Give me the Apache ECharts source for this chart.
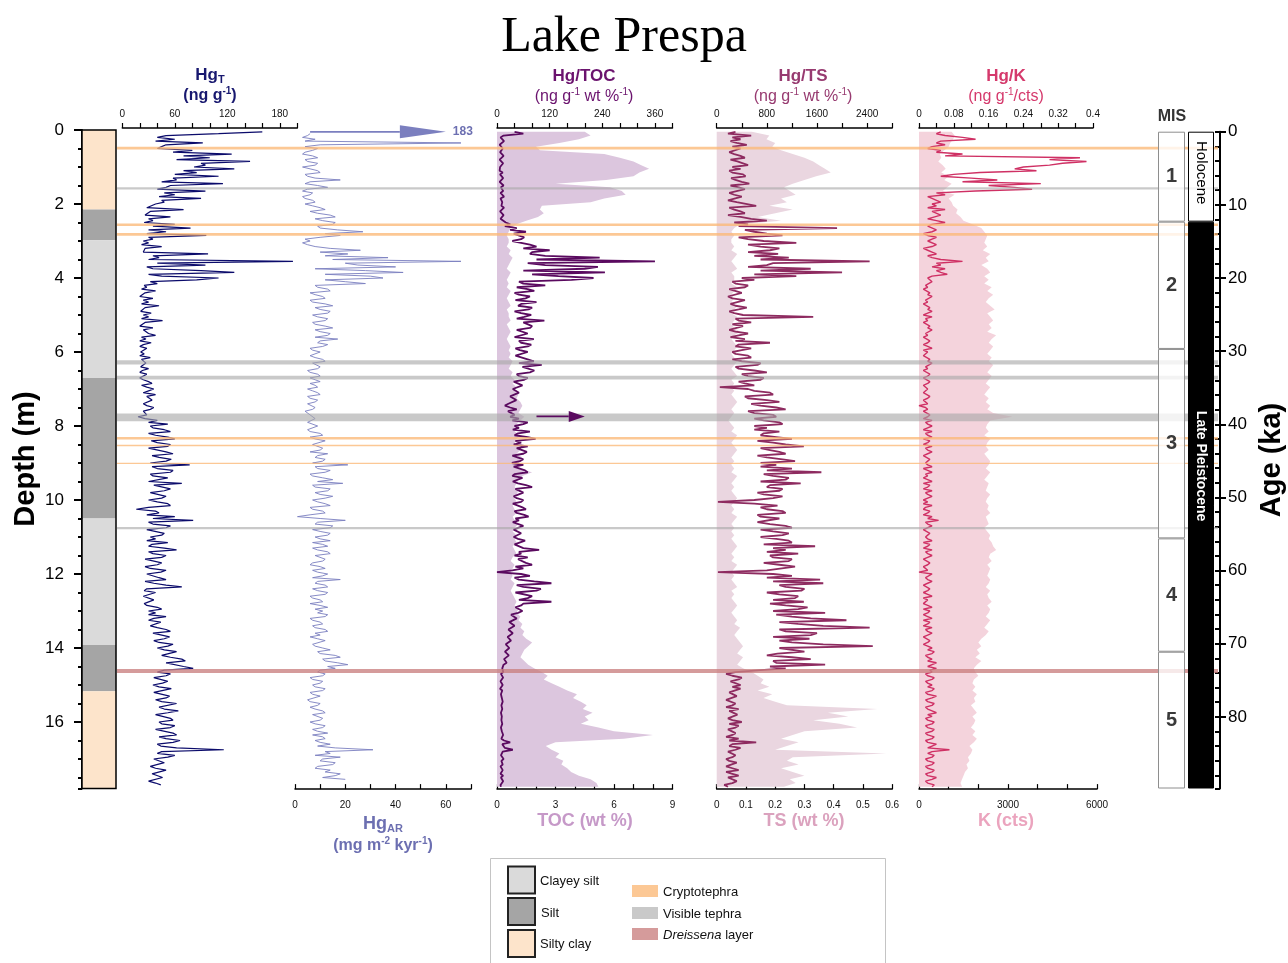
<!DOCTYPE html>
<html>
<head>
<meta charset="utf-8">
<title>Lake Prespa</title>
<script src="https://cdn.jsdelivr.net/npm/echarts@6/dist/echarts.min.js"></script>
<style>
  html, body { margin: 0; padding: 0; background: #fff; }
  #chart { width: 1288px; height: 963px; }
</style>
</head>
<body>
<div id="chart"></div>
<script>
// ---------------------------------------------------------------------------
// Core data
// ---------------------------------------------------------------------------
// Bulk geochemistry depths (m), one sample every 10 cm
const DEPTH = [
  0.05, 0.15, 0.25, 0.35, 0.45, 0.55, 0.65, 0.75, 0.85, 0.95,
  1.05, 1.15, 1.25, 1.35, 1.45, 1.55, 1.65, 1.75, 1.85, 1.95,
  2.05, 2.15, 2.25, 2.35, 2.45, 2.55, 2.65, 2.75, 2.85, 2.95,
  3.05, 3.15, 3.25, 3.35, 3.45, 3.55, 3.65, 3.75, 3.85, 3.95,
  4.05, 4.15, 4.25, 4.35, 4.45, 4.55, 4.65, 4.75, 4.85, 4.95,
  5.05, 5.15, 5.25, 5.35, 5.45, 5.55, 5.65, 5.75, 5.85, 5.95,
  6.05, 6.15, 6.25, 6.35, 6.45, 6.55, 6.65, 6.75, 6.85, 6.95,
  7.05, 7.15, 7.25, 7.35, 7.45, 7.55, 7.65, 7.75, 7.85, 7.95,
  8.05, 8.15, 8.25, 8.35, 8.45, 8.55, 8.65, 8.75, 8.85, 8.95,
  9.05, 9.15, 9.25, 9.35, 9.45, 9.55, 9.65, 9.75, 9.85, 9.95,
  10.05, 10.15, 10.25, 10.35, 10.45, 10.55, 10.65, 10.75, 10.85, 10.95,
  11.05, 11.15, 11.25, 11.35, 11.45, 11.55, 11.65, 11.75, 11.85, 11.95,
  12.05, 12.15, 12.25, 12.35, 12.45, 12.55, 12.65, 12.75, 12.85, 12.95,
  13.05, 13.15, 13.25, 13.35, 13.45, 13.55, 13.65, 13.75, 13.85, 13.95,
  14.05, 14.15, 14.25, 14.35, 14.45, 14.55, 14.65, 14.75, 14.85, 14.95,
  15.05, 15.15, 15.25, 15.35, 15.45, 15.55, 15.65, 15.75, 15.85, 15.95,
  16.05, 16.15, 16.25, 16.35, 16.45, 16.55, 16.65, 16.75, 16.85, 16.95,
  17.05, 17.15, 17.25, 17.35, 17.45, 17.55, 17.65, 17.75
];

// Mercury depths (m), one sample every 5 cm
const DEPTH_HG = [
  0.05, 0.1, 0.15, 0.2, 0.25, 0.3, 0.35, 0.4, 0.45, 0.5, 0.55, 0.6, 0.65, 0.7, 0.75, 0.8, 0.85, 0.9, 0.95, 1.0,
  1.05, 1.1, 1.15, 1.2, 1.25, 1.3, 1.35, 1.4, 1.45, 1.5, 1.55, 1.6, 1.65, 1.7, 1.75, 1.8, 1.85, 1.9, 1.95, 2.0,
  2.05, 2.1, 2.15, 2.2, 2.25, 2.3, 2.35, 2.4, 2.45, 2.5, 2.55, 2.6, 2.65, 2.7, 2.75, 2.8, 2.85, 2.9, 2.95, 3.0,
  3.05, 3.1, 3.15, 3.2, 3.25, 3.3, 3.35, 3.4, 3.45, 3.5, 3.55, 3.6, 3.65, 3.7, 3.75, 3.8, 3.85, 3.9, 3.95, 4.0,
  4.05, 4.1, 4.15, 4.2, 4.25, 4.3, 4.35, 4.4, 4.45, 4.5, 4.55, 4.6, 4.65, 4.7, 4.75, 4.8, 4.85, 4.9, 4.95, 5.0,
  5.05, 5.1, 5.15, 5.2, 5.25, 5.3, 5.35, 5.4, 5.45, 5.5, 5.55, 5.6, 5.65, 5.7, 5.75, 5.8, 5.85, 5.9, 5.95, 6.0,
  6.05, 6.1, 6.15, 6.2, 6.25, 6.3, 6.35, 6.4, 6.45, 6.5, 6.55, 6.6, 6.65, 6.7, 6.75, 6.8, 6.85, 6.9, 6.95, 7.0,
  7.05, 7.1, 7.15, 7.2, 7.25, 7.3, 7.35, 7.4, 7.45, 7.5, 7.55, 7.6, 7.65, 7.7, 7.75, 7.8, 7.85, 7.9, 7.95, 8.0,
  8.05, 8.1, 8.15, 8.2, 8.25, 8.3, 8.35, 8.4, 8.45, 8.5, 8.55, 8.6, 8.65, 8.7, 8.75, 8.8, 8.85, 8.9, 8.95, 9.0,
  9.05, 9.1, 9.15, 9.2, 9.25, 9.3, 9.35, 9.4, 9.45, 9.5, 9.55, 9.6, 9.65, 9.7, 9.75, 9.8, 9.85, 9.9, 9.95, 10.0,
  10.05, 10.1, 10.15, 10.2, 10.25, 10.3, 10.35, 10.4, 10.45, 10.5, 10.55, 10.6, 10.65, 10.7, 10.75, 10.8, 10.85, 10.9, 10.95, 11.0,
  11.05, 11.1, 11.15, 11.2, 11.25, 11.3, 11.35, 11.4, 11.45, 11.5, 11.55, 11.6, 11.65, 11.7, 11.75, 11.8, 11.85, 11.9, 11.95, 12.0,
  12.05, 12.1, 12.15, 12.2, 12.25, 12.3, 12.35, 12.4, 12.45, 12.5, 12.55, 12.6, 12.65, 12.7, 12.75, 12.8, 12.85, 12.9, 12.95, 13.0,
  13.05, 13.1, 13.15, 13.2, 13.25, 13.3, 13.35, 13.4, 13.45, 13.5, 13.55, 13.6, 13.65, 13.7, 13.75, 13.8, 13.85, 13.9, 13.95, 14.0,
  14.05, 14.1, 14.15, 14.2, 14.25, 14.3, 14.35, 14.4, 14.45, 14.5, 14.55, 14.6, 14.65, 14.7, 14.75, 14.8, 14.85, 14.9, 14.95, 15.0,
  15.05, 15.1, 15.15, 15.2, 15.25, 15.3, 15.35, 15.4, 15.45, 15.5, 15.55, 15.6, 15.65, 15.7, 15.75, 15.8, 15.85, 15.9, 15.95, 16.0,
  16.05, 16.1, 16.15, 16.2, 16.25, 16.3, 16.35, 16.4, 16.45, 16.5, 16.55, 16.6, 16.65, 16.7, 16.75, 16.8, 16.85, 16.9, 16.95, 17.0,
  17.05, 17.1, 17.15, 17.2, 17.25, 17.3, 17.35, 17.4, 17.45, 17.5, 17.55, 17.6, 17.65, 17.7, 17.75, 17.8
];

// Total mercury, Hg_T (ng g-1)
const HG_T = [
  160, 110, 50, 40, 60, 38, 92, 50, 45, 40, 80, 58, 125, 70, 100, 62, 146, 90, 95, 82,
  128, 70, 85, 60, 110, 58, 62, 45, 115, 55, 50, 40, 95, 48, 60, 42, 90, 45, 48, 38,
  40, 28, 70, 32, 30, 26, 55, 30, 35, 25, 60, 35, 78, 30, 50, 28, 96, 30, 35, 24,
  30, 22, 45, 26, 25, 24, 98, 35, 42, 30, 195, 40, 95, 28, 35, 90, 128, 30, 45, 110,
  85, 32, 40, 25, 28, 22, 38, 26, 25, 20, 35, 24, 30, 22, 42, 26, 28, 21, 33, 24,
  30, 22, 46, 26, 25, 20, 35, 24, 22, 30, 38, 22, 27, 20, 33, 24, 20, 28, 30, 21,
  25, 20, 32, 22, 22, 27, 28, 21, 30, 23, 20, 28, 26, 20, 24, 30, 34, 22, 28, 36,
  30, 24, 38, 28, 26, 34, 35, 24, 28, 36, 32, 24, 22, 28, 18, 26, 40, 30, 52, 32,
  35, 48, 55, 30, 38, 52, 60, 33, 40, 55, 52, 30, 32, 50, 58, 34, 42, 56, 50, 32,
  77, 34, 40, 58, 55, 32, 35, 52, 50, 30, 68, 36, 38, 55, 48, 32, 30, 50, 45, 30,
  40, 52, 55, 30, 16, 38, 42, 28, 60, 35, 81, 30, 35, 55, 50, 28, 30, 48, 45, 32,
  38, 28, 52, 34, 30, 48, 62, 30, 35, 50, 45, 26, 28, 45, 40, 26, 32, 50, 44, 28,
  30, 42, 50, 26, 36, 50, 68, 28, 25, 38, 40, 24, 22, 36, 35, 25, 28, 40, 45, 30,
  38, 30, 50, 36, 30, 44, 46, 32, 40, 50, 55, 35, 36, 54, 48, 36, 42, 58, 52, 40,
  48, 62, 60, 45, 55, 68, 72, 50, 52, 70, 81, 48, 40, 55, 50, 36, 38, 52, 46, 35,
  42, 56, 55, 36, 38, 54, 50, 38, 45, 62, 60, 42, 48, 64, 52, 38, 40, 55, 58, 42,
  45, 60, 55, 38, 40, 58, 62, 42, 50, 66, 58, 40, 44, 62, 116, 45, 40, 60, 52, 36,
  35, 48, 50, 32, 38, 50, 48, 34, 32, 46, 45, 30, 38, 44
];

// Hg accumulation rate, Hg_AR (mg m-2 kyr-1)
const HG_AR = [
  183, 6, 5, 3, 8, 4, 66, 10, 4, 9, 7, 4, 3, 7, 9, 4, 5, 9, 8, 3,
  6, 9, 10, 4, 5, 8, 18, 6, 4, 9, 13, 5, 3, 7, 6, 3, 4, 7, 8, 4,
  7, 10, 12, 6, 9, 14, 16, 8, 11, 16, 15, 9, 10, 17, 27, 12, 18, 10, 4, 6,
  3, 5, 8, 14, 26, 10, 21, 12, 37, 15, 66, 20, 25, 40, 8, 28, 43, 12, 30, 35,
  12, 20, 28, 8, 9, 13, 14, 6, 8, 11, 12, 6, 7, 12, 15, 8, 10, 14, 13, 7,
  9, 13, 12, 7, 8, 12, 15, 8, 10, 14, 13, 8, 17, 10, 9, 13, 11, 6, 7, 10,
  10, 6, 8, 11, 12, 7, 7, 10, 9, 5, 6, 9, 10, 6, 8, 10, 6, 8, 9, 5,
  7, 9, 10, 5, 6, 9, 8, 5, 5, 8, 7, 4, 4, 6, 6, 8, 8, 5, 5, 9,
  9, 5, 6, 10, 11, 6, 8, 12, 12, 7, 7, 11, 10, 6, 13, 9, 8, 12, 11, 7,
  21, 8, 9, 14, 12, 6, 7, 11, 15, 9, 19, 7, 8, 14, 13, 8, 10, 15, 12, 7,
  9, 12, 14, 6, 7, 11, 12, 6, 1, 10, 20, 9, 8, 15, 14, 7, 10, 14, 13, 8,
  10, 14, 7, 11, 13, 7, 9, 13, 14, 8, 8, 12, 11, 7, 6, 10, 12, 7, 9, 13,
  11, 7, 18, 9, 8, 12, 13, 7, 9, 13, 12, 6, 7, 10, 11, 6, 10, 13, 8, 11,
  9, 13, 12, 6, 7, 10, 11, 7, 8, 12, 13, 8, 10, 6, 9, 12, 12, 7, 8, 11,
  14, 9, 10, 16, 18, 11, 12, 17, 21, 13, 16, 10, 9, 12, 11, 6, 7, 11, 10, 7,
  8, 12, 11, 6, 7, 10, 10, 5, 6, 10, 9, 6, 8, 11, 12, 7, 7, 11, 10, 6,
  8, 12, 11, 7, 9, 13, 7, 11, 12, 8, 10, 14, 9, 16, 31, 12, 14, 8, 18, 11,
  10, 16, 15, 9, 8, 14, 12, 18, 16, 11, 20
];

// Hg/TOC (ng g-1 wt %-1)
const HG_TOC = [
  40, 60, 15, 8, 10, 16, 12, 6, 8, 13, 14, 7, 10, 15, 12, 6, 9, 14, 11, 7,
  10, 6, 13, 7, 8, 14, 12, 6, 10, 15, 9, 5, 14, 8, 11, 16, 8, 5, 12, 9,
  10, 16, 12, 7, 9, 15, 14, 8, 11, 20, 30, 18, 45, 30, 66, 38, 40, 62, 55, 35,
  55, 75, 90, 60, 120, 80, 75, 110, 234, 90, 360, 70, 110, 230, 200, 60, 246, 80, 140, 220,
  170, 50, 60, 110, 45, 70, 85, 40, 50, 75, 65, 42, 90, 55, 48, 80, 72, 40, 55, 78,
  62, 45, 108, 60, 58, 80, 75, 45, 48, 70, 66, 40, 84, 50, 55, 78, 70, 42, 52, 70,
  68, 42, 45, 70, 84, 50, 102, 58, 60, 85, 75, 45, 50, 70, 62, 38, 40, 58, 55, 36,
  35, 50, 48, 30, 28, 44, 40, 26, 18, 30, 45, 25, 22, 40, 30, 50, 35, 70, 60, 40,
  50, 36, 75, 48, 40, 70, 88, 42, 55, 38, 70, 45, 45, 68, 60, 35, 38, 60, 52, 34,
  60, 38, 42, 64, 70, 40, 35, 58, 55, 36, 48, 66, 80, 42, 40, 60, 62, 38, 45, 60,
  55, 36, 38, 58, 66, 40, 45, 62, 72, 42, 50, 36, 40, 60, 58, 38, 35, 55, 52, 38,
  48, 64, 62, 40, 42, 60, 96, 50, 55, 40, 70, 48, 45, 66, 80, 42, 60, 35, 0, 55,
  75, 40, 50, 85, 124, 45, 60, 100, 90, 42, 45, 80, 70, 50, 124, 60, 55, 42, 40, 58,
  48, 32, 35, 45, 42, 28, 30, 40, 38, 26, 28, 36, 34, 24, 25, 32, 30, 20, 22, 28,
  26, 18, 20, 27, 24, 16, 18, 22, 15, 19, 12, 16, 14, 9, 10, 14, 12, 8, 9, 13,
  10, 7, 12, 9, 9, 13, 11, 8, 13, 9, 10, 14, 12, 8, 9, 12, 11, 7, 10, 13,
  12, 8, 9, 13, 11, 7, 14, 10, 10, 16, 30, 12, 12, 18, 36, 13, 14, 9, 11, 15,
  10, 7, 13, 8, 9, 13, 11, 8, 14, 9, 10, 14, 12, 8, 9
];

// Hg/TS (ng g-1 wt %-1)
const HG_TS = [
  300, 180, 550, 250, 380, 220, 320, 480, 250, 380, 400, 200, 280, 380, 450, 220, 330, 420, 500, 250,
  380, 200, 250, 420, 460, 230, 300, 400, 520, 220, 350, 450, 420, 200, 280, 400, 380, 180, 320, 350,
  630, 200, 280, 380, 450, 180, 380, 550, 800, 280, 500, 350, 1920, 450, 600, 800, 1050, 350, 500, 750,
  1270, 500, 700, 1000, 850, 500, 980, 600, 1150, 700, 2440, 900, 800, 500, 1500, 700, 2000, 600, 1270, 400,
  600, 250, 300, 500, 450, 200, 200, 400, 380, 180, 250, 450, 420, 220, 300, 480, 350, 200, 280, 420,
  1540, 300, 350, 550, 250, 420, 400, 200, 300, 500, 350, 220, 450, 300, 850, 350, 300, 550, 400, 250,
  300, 500, 550, 250, 400, 700, 650, 300, 350, 600, 800, 400, 500, 750, 700, 350, 450, 600, 50, 500,
  600, 850, 900, 450, 500, 800, 1000, 550, 700, 950, 1100, 500, 600, 900, 950, 600, 750, 1000, 1050, 600,
  800, 600, 1000, 750, 700, 950, 1200, 650, 900, 1100, 1390, 700, 850, 1000, 1100, 650, 800, 1050, 1250, 700,
  950, 700, 1200, 800, 1670, 750, 900, 1150, 1100, 700, 1340, 850, 800, 1050, 1000, 650, 750, 1050, 900, 600,
  20, 600, 970, 700, 800, 1050, 1100, 650, 700, 1000, 970, 650, 850, 1100, 1200, 700, 900, 1150, 1050, 700,
  950, 1150, 1200, 750, 1570, 900, 1100, 800, 1300, 850, 900, 1200, 1150, 750, 1000, 1250, 1250, 800, 20, 900,
  1200, 800, 1650, 900, 1700, 1000, 1100, 1400, 1350, 800, 1000, 1300, 1250, 900, 1390, 850, 1100, 1450, 1300, 900,
  1730, 950, 1200, 1500, 2070, 1000, 1300, 1700, 2440, 1000, 1100, 1600, 1500, 900, 1480, 1000, 1200, 1700, 2490, 1000,
  1000, 1400, 970, 800, 1200, 1500, 900, 950, 1730, 850, 1100, 700, 300, 150, 250, 400, 350, 220, 200, 380,
  250, 380, 350, 200, 200, 320, 300, 150, 150, 300, 250, 150, 350, 200, 200, 330, 300, 180, 250, 400,
  200, 350, 300, 180, 150, 300, 250, 150, 350, 200, 630, 250, 200, 380, 300, 180, 150, 300, 250, 150,
  200, 320, 300, 150, 250, 350, 150, 250, 350, 180, 200, 320, 250, 120, 180
];

// Hg/K (ng g-1/cts)
const HG_K = [
  0.05, 0.04, 0.06, 0.10, 0.13, 0.05, 0.04, 0.06, 0.03, 0.02, 0.05, 0.04, 0.10, 0.06, 0.37, 0.30, 0.385, 0.33, 0.30, 0.24,
  0.22, 0.27, 0.14, 0.08, 0.05, 0.12, 0.18, 0.10, 0.28, 0.16, 0.22, 0.26, 0.13, 0.04, 0.06, 0.02, 0.03, 0.04, 0.05, 0.03,
  0.04, 0.02, 0.06, 0.03, 0.03, 0.05, 0.05, 0.02, 0.04, 0.06, 0.03, 0.02, 0.02, 0.04, 0.03, 0.01, 0.02, 0.04, 0.03, 0.02,
  0.02, 0.04, 0.03, 0.01, 0.02, 0.03, 0.04, 0.02, 0.03, 0.05, 0.10, 0.04, 0.05, 0.03, 0.06, 0.04, 0.05, 0.065, 0.03, 0.02,
  0.02, 0.03, 0.03, 0.015, 0.02, 0.01, 0.01, 0.025, 0.02, 0.03, 0.03, 0.015, 0.02, 0.01, 0.01, 0.025, 0.02, 0.03, 0.02, 0.01,
  0.03, 0.015, 0.02, 0.01, 0.01, 0.025, 0.02, 0.03, 0.03, 0.015, 0.02, 0.01, 0.01, 0.025, 0.02, 0.01, 0.02, 0.03, 0.01, 0.02,
  0.02, 0.01, 0.01, 0.025, 0.02, 0.03, 0.03, 0.015, 0.02, 0.01, 0.01, 0.025, 0.02, 0.01, 0.01, 0.025, 0.02, 0.01, 0.01, 0.02,
  0.02, 0.01, 0.01, 0.025, 0.02, 0.01, 0.01, 0.02, 0.00, 0.015, 0.02, 0.01, 0.01, 0.025, 0.02, 0.01, 0.03, 0.015, 0.02, 0.03,
  0.02, 0.01, 0.03, 0.015, 0.02, 0.03, 0.01, 0.025, 0.02, 0.01, 0.03, 0.015, 0.02, 0.03, 0.02, 0.01, 0.01, 0.025, 0.02, 0.015,
  0.02, 0.03, 0.01, 0.02, 0.03, 0.015, 0.02, 0.01, 0.02, 0.03, 0.01, 0.025, 0.02, 0.01, 0.03, 0.015, 0.02, 0.03, 0.02, 0.01,
  0.02, 0.01, 0.03, 0.015, 0.01, 0.025, 0.02, 0.01, 0.03, 0.02, 0.045, 0.015, 0.02, 0.03, 0.02, 0.01, 0.01, 0.025, 0.02, 0.015,
  0.02, 0.03, 0.01, 0.025, 0.02, 0.01, 0.03, 0.015, 0.02, 0.03, 0.02, 0.01, 0.01, 0.025, 0.02, 0.01, 0.01, 0.02, 0.00, 0.03,
  0.03, 0.015, 0.02, 0.03, 0.02, 0.01, 0.01, 0.025, 0.02, 0.01, 0.02, 0.03, 0.01, 0.02, 0.02, 0.01, 0.02, 0.03, 0.01, 0.025,
  0.02, 0.01, 0.02, 0.03, 0.01, 0.025, 0.02, 0.01, 0.03, 0.015, 0.02, 0.03, 0.02, 0.01, 0.01, 0.025, 0.02, 0.01, 0.02, 0.03,
  0.02, 0.035, 0.03, 0.015, 0.02, 0.03, 0.02, 0.04, 0.03, 0.02, 0.04, 0.025, 0.03, 0.015, 0.02, 0.035, 0.03, 0.015, 0.02, 0.03,
  0.02, 0.035, 0.03, 0.015, 0.02, 0.04, 0.03, 0.015, 0.02, 0.035, 0.03, 0.015, 0.02, 0.03, 0.04, 0.02, 0.03, 0.015, 0.02, 0.035,
  0.03, 0.015, 0.02, 0.035, 0.03, 0.015, 0.02, 0.035, 0.03, 0.015, 0.02, 0.04, 0.03, 0.02, 0.07, 0.03, 0.02, 0.035, 0.03, 0.015,
  0.02, 0.035, 0.03, 0.015, 0.02, 0.035, 0.03, 0.015, 0.02, 0.04, 0.03, 0.015, 0.02, 0.035, 0.03
];

// Total organic carbon, TOC (wt %)
const TOC = [
  4.5, 4.8, 4.2, 3.2, 2.0, 2.2, 5.5, 6.3, 7.0, 7.4,
  7.8, 7.3, 7.0, 5.6, 3.0, 5.8, 6.4, 6.6, 5.5, 4.8,
  2.3, 2.2, 2.4, 2.1, 1.5, 1.0, 0.7, 0.6, 0.5, 0.6,
  0.6, 0.5, 0.7, 0.6, 0.8, 0.7, 0.6, 0.5, 0.7, 0.6,
  0.5, 0.6, 0.5, 0.7, 0.6, 0.5, 0.6, 0.7, 0.5, 0.6,
  0.6, 0.7, 0.5, 0.6, 0.7, 0.6, 0.5, 0.6, 0.7, 0.6,
  0.7, 0.6, 0.8, 0.7, 0.6, 0.8, 0.7, 0.9, 0.8, 1.0,
  0.9, 1.1, 1.0, 1.2, 1.3, 1.2, 1.1, 1.4, 1.2, 1.0,
  1.1, 0.9, 1.2, 1.0, 0.9, 1.1, 1.2, 1.0, 1.3, 1.1,
  1.2, 1.0, 1.8, 1.3, 1.1, 1.0, 0.9, 1.1, 1.0, 0.9,
  1.0, 0.8, 0.9, 1.0, 0.8, 0.9, 1.1, 0.9, 0.8, 1.0,
  0.9, 1.0, 0.8, 0.9, 1.0, 0.8, 0.7, 0.9, 0.8, 0.7,
  0.8, 0.7, 0.9, 0.8, 0.7, 0.8, 0.9, 1.0, 0.9, 1.1,
  1.0, 1.2, 1.1, 1.3, 1.2, 1.4, 1.3, 1.5, 1.8, 1.6,
  1.4, 1.3, 1.2, 1.4, 1.6, 1.9, 2.3, 2.6, 2.4, 2.8,
  3.2, 3.6, 4.1, 3.9, 4.3, 4.6, 4.4, 4.9, 4.5, 4.7,
  4.3, 5.2, 6.0, 8.0, 6.5, 3.0, 2.5, 2.8, 3.2, 3.0,
  3.4, 3.3, 3.6, 3.8, 4.2, 4.8, 5.1, 5.2
];

// Total sulphur, TS (wt %)
const TS = [
  0.12, 0.18, 0.17, 0.20, 0.19, 0.22, 0.26, 0.30, 0.33, 0.35,
  0.37, 0.39, 0.34, 0.30, 0.26, 0.23, 0.25, 0.27, 0.22, 0.24,
  0.18, 0.26, 0.20, 0.14, 0.22, 0.08, 0.06, 0.05, 0.06, 0.05,
  0.05, 0.06, 0.05, 0.07, 0.06, 0.05, 0.06, 0.07, 0.05, 0.06,
  0.06, 0.05, 0.07, 0.06, 0.05, 0.06, 0.05, 0.07, 0.06, 0.05,
  0.07, 0.06, 0.05, 0.06, 0.08, 0.06, 0.05, 0.06, 0.07, 0.06,
  0.05, 0.06, 0.07, 0.06, 0.05, 0.06, 0.07, 0.05, 0.06, 0.05,
  0.06, 0.05, 0.06, 0.07, 0.06, 0.05, 0.06, 0.05, 0.04, 0.05,
  0.06, 0.05, 0.07, 0.06, 0.05, 0.06, 0.07, 0.06, 0.05, 0.06,
  0.05, 0.06, 0.05, 0.07, 0.06, 0.05, 0.06, 0.05, 0.06, 0.07,
  0.06, 0.05, 0.06, 0.05, 0.07, 0.06, 0.05, 0.06, 0.05, 0.06,
  0.05, 0.06, 0.07, 0.06, 0.05, 0.06, 0.05, 0.07, 0.06, 0.05,
  0.06, 0.05, 0.06, 0.07, 0.05, 0.06, 0.05, 0.06, 0.07, 0.06,
  0.05, 0.06, 0.07, 0.06, 0.08, 0.07, 0.06, 0.07, 0.08, 0.09,
  0.08, 0.07, 0.09, 0.08, 0.07, 0.09, 0.12, 0.14, 0.16, 0.15,
  0.18, 0.14, 0.19, 0.16, 0.20, 0.24, 0.55, 0.38, 0.45, 0.33,
  0.42, 0.48, 0.30, 0.26, 0.22, 0.28, 0.24, 0.20, 0.58, 0.26,
  0.24, 0.28, 0.22, 0.26, 0.30, 0.25, 0.27, 0.23
];

// Potassium, K (XRF counts)
const K = [
  1100, 1200, 1150, 1050, 1000, 850, 700, 750, 650, 800,
  900, 750, 1000, 850, 1100, 950, 800, 1200, 1000, 1100,
  1150, 1300, 1250, 1400, 1500, 1800, 2100, 2200, 2300, 2250,
  2200, 2300, 2150, 2400, 2250, 2350, 2100, 2300, 2400, 2200,
  2350, 2200, 2450, 2300, 2500, 2350, 2250, 2400, 2550, 2300,
  2400, 2500, 2350, 2450, 2300, 2600, 2450, 2350, 2500, 2400,
  2300, 2450, 2350, 2500, 2400, 2300, 2450, 2350, 2250, 2400,
  2300, 2200, 2350, 2250, 2400, 2300, 2500, 3150, 2400, 2300,
  2250, 2350, 2200, 2400, 2300, 2250, 2350, 2200, 2300, 2400,
  2350, 2250, 2400, 2300, 2200, 2350, 2300, 2250, 2400, 2300,
  2250, 2350, 2300, 2400, 2250, 2300, 2350, 2200, 2300, 2400,
  2350, 2450, 2500, 2600, 2400, 2350, 2450, 2300, 2400, 2350,
  2300, 2400, 2350, 2250, 2400, 2300, 2350, 2450, 2300, 2400,
  2350, 2250, 2400, 2300, 2200, 2350, 2250, 2100, 2000, 2100,
  1950, 2050, 1900, 2100, 1950, 1850, 1900, 2000, 1850, 1800,
  1900, 1800, 1950, 1850, 1900, 1750, 1850, 1950, 1800, 1900,
  1850, 1750, 1900, 1800, 1950, 1850, 1700, 1800, 1750, 1650,
  1700, 1600, 1650, 1550, 1500, 1450, 1400, 1450
];

// Lithology units: [top (m), bottom (m), type index]
const LITH_TYPES = ['Clayey silt', 'Silt', 'Silty clay'];
const LITH_UNITS = [
  [0, 2.15, 2], [2.15, 2.98, 1], [2.98, 6.7, 0], [6.7, 10.5, 1],
  [10.5, 13.92, 0], [13.92, 15.17, 1], [15.17, 17.8, 2]
];

// Marker layers: [top (m), bottom (m), type index]
const MARKER_TYPES = ['Cryptotephra', 'Visible tephra', 'Dreissena layer'];
const MARKER_LAYERS = [
  [0.455, 0.525, 0], [2.525, 2.595, 0], [2.785, 2.855, 0],
  [8.295, 8.365, 0], [8.51, 8.55, 0], [8.99, 9.03, 0],
  [1.55, 1.61, 1], [6.22, 6.34, 1], [6.64, 6.74, 1], [7.66, 7.87, 1], [10.73, 10.79, 1],
  [14.565, 14.675, 2]
];

// Marine isotope stages: [start (ka), end (ka), stage]
const MIS = [[0, 12.3, 1], [12.3, 29.7, 2], [29.7, 55.6, 3], [55.6, 71.1, 4], [71.1, 89.8, 5]];

// Epochs: [start (ka), end (ka), index]
const EPOCH_NAMES = ['Holocene', 'Late Pleistocene'];
const EPOCHS = [[0, 12.3, 0], [12.3, 89.8, 1]];

// Hg/TOC flagged in the thick visible tephra (off scale, no value given)
const HG_TOC_FLAG_DEPTHS = [7.74];

// Labelled ticks on the depth and age scales
const DEPTH_TICKS = [0, 2, 4, 6, 8, 10, 12, 14, 16];
const AGE_TICKS = [0, 10, 20, 30, 40, 50, 60, 70, 80];

// Axis extents and tick steps
const DEPTH_MAX = 17.8, AGE_MAX = 89.8;
const HGT_AXIS = { max: 200, step: 20, every: 3 };
const HGAR_AXIS = { max: 70, step: 10, every: 2 };
const HGTOC_AXIS = { max: 400, step: 40, every: 3 };
const TOC_AXIS = { max: 9, step: 1, every: 3 };
const HGTS_AXIS = { max: 2800, step: 400, every: 2 };
const TS_AXIS = { max: 0.6, step: 0.1, every: 1 };
const HGK_AXIS = { max: 0.4, step: 0.04, every: 2 };
const K_AXIS = { max: 6000, step: 1000, every: 3 };

// ---------------------------------------------------------------------------
// Styling
// ---------------------------------------------------------------------------
const FONT = '"Liberation Sans", Arial, Helvetica, sans-serif';
const COL = {
  hgT: '#0b0b6b', hgTTitle: '#18186f',
  hgAR: '#7b7fbf', hgARTitle: '#6c6fb1',
  hgTOC: '#5a0a5f', hgTOCTitle: '#6b136e',
  toc: '#dcc6de', tocTitle: '#c699c8',
  hgTS: '#8e2b60', hgTSTitle: '#973a70',
  ts: '#ead6e0', tsTitle: '#dba2be',
  hgK: '#cf3064', hgKTitle: '#d5396c',
  k: '#f4d3dc', kTitle: '#eba4be'
};
const LITH_COLORS = ['#dadada', '#a5a5a5', '#fde4cb'];
const MARKER_STYLE = [
  { color: '#fbb877', opacity: 0.78 },
  { color: '#a8a8a8', opacity: 0.62 },
  { color: '#c97f7f', opacity: 0.78 }
];

const GT = 130, GH = 658.6;     // depth panels: top and height (px)
const AT = 131.7, AH = 656.8;   // age panels: top and height (px)

// ---------------------------------------------------------------------------
// Helpers
// ---------------------------------------------------------------------------
function profile(values, depths) {
  return values.map((v, i) => [v, depths[i]]);
}
function fmtNum(v) { return String(parseFloat(v.toFixed(4))); }
function stepLabels(step, every) {
  return function (v) {
    const k = Math.round(v / step);
    if (Math.abs(v - k * step) > step * 1e-3) return '';
    return k % every === 0 ? fmtNum(v) : '';
  };
}
function scaleAxis(gridIndex, position, cfg) {
  const top = position === 'top';
  return {
    type: 'value', gridIndex, position, min: 0, max: cfg.max, interval: cfg.step,
    offset: top ? 2 : 0.5,
    axisLine: { show: true, onZero: false, lineStyle: { color: '#000', width: 1.5 } },
    axisTick: { show: true, inside: !top, length: 5, lineStyle: { color: '#000', width: 1.2 } },
    axisLabel: {
      show: true, formatter: stepLabels(cfg.step, cfg.every),
      fontSize: 10, fontFamily: FONT, color: '#111', margin: top ? 9 : 11
    },
    splitLine: { show: false }
  };
}
function hiddenX(gridIndex) {
  return { type: 'value', gridIndex, min: 0, max: 1, show: false, axisLine: { onZero: false } };
}
function depthY(gridIndex) {
  return { type: 'value', gridIndex, min: 0, max: DEPTH_MAX, inverse: true, show: false, axisLine: { onZero: false } };
}
function ageY(gridIndex) {
  return { type: 'value', gridIndex, min: 0, max: AGE_MAX, inverse: true, show: false, axisLine: { onZero: false } };
}
function lineSeries(name, xi, yi, data, color, width) {
  return {
    type: 'line', name, xAxisIndex: xi, yAxisIndex: yi, data,
    showSymbol: false, symbol: 'none', z: 3,
    lineStyle: { color, width }, emphasis: { disabled: true }
  };
}
// filled profile drawn as one polygon from the axis origin
function areaSeries(name, xi, yi, values, color) {
  return {
    type: 'custom', name, xAxisIndex: xi, yAxisIndex: yi, data: profile(values, DEPTH), z: 1,
    renderItem(params, api) {
      if (params.dataIndexInside !== 0) return null;
      const n = params.dataInsideLength;
      const pts = [api.coord([0, api.value(1, 0)])];
      for (let i = 0; i < n; i++) pts.push(api.coord([api.value(0, i), api.value(1, i)]));
      pts.push(api.coord([0, api.value(1, n - 1)]));
      return { type: 'polygon', shape: { points: pts }, style: { fill: color } };
    }
  };
}
// horizontal arrow for samples beyond the axis range
function arrowSeries(name, xi, yi, data, opt) {
  return {
    type: 'custom', name, xAxisIndex: xi, yAxisIndex: yi, data, z: 6, clip: false,
    renderItem(params, api) {
      const d = api.value(1);
      const a = api.coord([opt.from, d]);
      const b = api.coord([opt.to, d]);
      const y = a[1];
      const children = [
        { type: 'line', shape: { x1: a[0], y1: y, x2: b[0] - opt.head, y2: y },
          style: { stroke: opt.color, lineWidth: opt.width } },
        { type: 'polygon', shape: { points: [[b[0] - opt.head, y - opt.half], [b[0], y], [b[0] - opt.head, y + opt.half]] },
          style: { fill: opt.color } }
      ];
      if (opt.showValue) {
        children.push({
          type: 'text', x: b[0] + 7, y,
          style: { text: String(api.value(0)), font: `bold 12px ${FONT}`, fill: opt.labelColor,
                   align: 'left', verticalAlign: 'middle', textAlign: 'left', textVerticalAlign: 'middle' }
        });
      }
      return { type: 'group', children };
    }
  };
}
function richTitle(x, y, text, rich, color) {
  return {
    type: 'text', x, y, z: 10,
    style: { text, rich, fill: color, align: 'center', verticalAlign: 'middle',
             textAlign: 'center', textVerticalAlign: 'middle' }
  };
}
function tokens(color, size, weight) {
  return {
    m: { font: `${weight} ${size}px ${FONT}`, fill: color, color, lineHeight: size + 3 },
    p: { font: `${weight} ${Math.round(size * 0.62)}px ${FONT}`, fill: color, color, verticalAlign: 'top', lineHeight: size + 3 },
    s: { font: `${weight} ${Math.round(size * 0.62)}px ${FONT}`, fill: color, color, verticalAlign: 'bottom', lineHeight: size + 3 }
  };
}

const HG_AR_ALL = profile(HG_AR, DEPTH_HG);
const HG_AR_PLOTTED = HG_AR_ALL.filter(p => p[0] <= HGAR_AXIS.max);
const HG_AR_OFFSCALE = HG_AR_ALL.filter(p => p[0] > HGAR_AXIS.max);

// ---------------------------------------------------------------------------
// Option
// ---------------------------------------------------------------------------
const option = {
  animation: false,
  backgroundColor: '#ffffff',
  grid: [
    { left: 82, top: GT, width: 34, height: GH },        // 0 lithology
    { left: 122.3, top: GT, width: 175, height: GH },    // 1 Hg_T
    { left: 295, top: GT, width: 176, height: GH },      // 2 Hg_AR
    { left: 497, top: GT, width: 175.5, height: GH },    // 3 Hg/TOC + TOC
    { left: 716.7, top: GT, width: 175.5, height: GH },  // 4 Hg/TS + TS
    { left: 919, top: GT, width: 174, height: GH },      // 5 Hg/K
    { left: 919, top: GT, width: 178, height: GH },      // 6 K
    { left: 117, top: GT, width: 1101, height: GH },     // 7 marker layers
    { left: 1158, top: AT, width: 27, height: AH },      // 8 MIS
    { left: 1188, top: AT, width: 26, height: AH },      // 9 epochs
    { left: 1150, top: AT, width: 70, height: AH },      // 10 age axis (major ticks)
    { left: 82, top: GT, width: 34, height: GH },        // 11 depth axis (minor ticks)
    { left: 1150, top: AT, width: 70, height: AH }       // 12 age axis (minor ticks)
  ],
  xAxis: [
    hiddenX(0),
    scaleAxis(1, 'top', HGT_AXIS),
    scaleAxis(2, 'bottom', HGAR_AXIS),
    scaleAxis(3, 'top', HGTOC_AXIS),
    scaleAxis(3, 'bottom', TOC_AXIS),
    scaleAxis(4, 'top', HGTS_AXIS),
    scaleAxis(4, 'bottom', TS_AXIS),
    scaleAxis(5, 'top', HGK_AXIS),
    scaleAxis(6, 'bottom', K_AXIS),
    hiddenX(7), hiddenX(8), hiddenX(9), hiddenX(10), hiddenX(11), hiddenX(12)
  ],
  yAxis: [
    { // depth: major ticks with labels
      type: 'value', gridIndex: 0, min: 0, max: DEPTH_MAX, inverse: true, interval: 2, position: 'left',
      axisLine: { show: true, onZero: false, lineStyle: { color: '#000', width: 2 } },
      axisTick: { show: true, length: 8, customValues: DEPTH_TICKS, lineStyle: { color: '#000', width: 2 } },
      axisLabel: { formatter: stepLabels(2, 1), customValues: DEPTH_TICKS,
                   fontSize: 17, fontFamily: FONT, color: '#000', margin: 18 },
      splitLine: { show: false }
    },
    { // depth: minor ticks
      type: 'value', gridIndex: 11, min: 0, max: DEPTH_MAX, inverse: true, interval: 0.5, position: 'left',
      axisLine: { show: false, onZero: false },
      axisTick: { show: true, length: 4, lineStyle: { color: '#000', width: 2 } },
      axisLabel: { show: false }, splitLine: { show: false }
    },
    depthY(1), depthY(2), depthY(3), depthY(4), depthY(5), depthY(6), depthY(7),
    ageY(8), ageY(9),
    { // age: major ticks with labels
      type: 'value', gridIndex: 10, min: 0, max: AGE_MAX, inverse: true, interval: 10, position: 'right',
      axisLine: { show: true, onZero: false, lineStyle: { color: '#000', width: 2 } },
      axisTick: { show: true, length: 6, customValues: AGE_TICKS, lineStyle: { color: '#000', width: 2 } },
      axisLabel: { formatter: stepLabels(10, 1), customValues: AGE_TICKS,
                   fontSize: 17, fontFamily: FONT, color: '#000', margin: 8 },
      splitLine: { show: false }
    },
    { // age: minor ticks
      type: 'value', gridIndex: 12, min: 0, max: AGE_MAX, inverse: true, interval: 2, position: 'right',
      axisLine: { show: false, onZero: false },
      axisTick: { show: true, inside: true, length: 5, lineStyle: { color: '#000', width: 2 } },
      axisLabel: { show: false }, splitLine: { show: false }
    }
  ],
  series: [
    { // lithology column
      type: 'custom', name: 'Lithology', xAxisIndex: 0, yAxisIndex: 0, data: LITH_UNITS, z: 2,
      renderItem(params, api) {
        const a = api.coord([0, api.value(0)]);
        const b = api.coord([1, api.value(1)]);
        return { type: 'rect', shape: { x: a[0], y: a[1], width: b[0] - a[0], height: b[1] - a[1] },
                 style: { fill: LITH_COLORS[api.value(2)] } };
      }
    },
    { // lithology frame
      type: 'custom', name: 'Lithology frame', xAxisIndex: 0, yAxisIndex: 0, data: [[0, DEPTH_MAX]], z: 3,
      renderItem(params, api) {
        const a = api.coord([0, api.value(0)]);
        const b = api.coord([1, api.value(1)]);
        return { type: 'rect', shape: { x: a[0], y: a[1], width: b[0] - a[0], height: b[1] - a[1] },
                 style: { fill: 'none', stroke: '#000', lineWidth: 1.5 } };
      }
    },
    areaSeries('TOC', 4, 4, TOC, COL.toc),
    areaSeries('TS', 6, 5, TS, COL.ts),
    areaSeries('K', 8, 7, K, COL.k),
    lineSeries('Hg_T', 1, 2, profile(HG_T, DEPTH_HG), COL.hgT, 1.2),
    lineSeries('Hg_AR', 2, 3, HG_AR_PLOTTED, COL.hgAR, 0.9),
    lineSeries('Hg/TOC', 3, 4, profile(HG_TOC, DEPTH_HG), COL.hgTOC, 1.8),
    lineSeries('Hg/TS', 5, 5, profile(HG_TS, DEPTH_HG), COL.hgTS, 1.8),
    lineSeries('Hg/K', 7, 6, profile(HG_K, DEPTH_HG), COL.hgK, 1.4),
    { // tephra and Dreissena layers across all panels
      type: 'custom', name: 'Marker layers', xAxisIndex: 9, yAxisIndex: 8, data: MARKER_LAYERS, z: 4,
      renderItem(params, api) {
        const a = api.coord([0, api.value(0)]);
        const b = api.coord([1, api.value(1)]);
        const st = MARKER_STYLE[api.value(2)];
        return { type: 'rect', shape: { x: a[0], y: a[1], width: b[0] - a[0], height: Math.max(b[1] - a[1], 1) },
                 style: { fill: st.color, opacity: st.opacity } };
      }
    },
    arrowSeries('Hg_AR off scale', 2, 3, HG_AR_OFFSCALE,
      { from: 6, to: 60, head: 46, half: 6.5, width: 1.6, color: COL.hgAR, showValue: true, labelColor: COL.hgARTitle }),
    arrowSeries('Hg/TOC flag', 3, 4, HG_TOC_FLAG_DEPTHS.map(d => [90, d]),
      { from: 90, to: 200, head: 16, half: 5.5, width: 1.6, color: COL.hgTOC, showValue: false }),
    { // marine isotope stages
      type: 'custom', name: 'MIS', xAxisIndex: 10, yAxisIndex: 9, data: MIS, z: 6,
      renderItem(params, api) {
        const a = api.coord([0, api.value(0)]);
        const b = api.coord([1, api.value(1)]);
        return { type: 'group', children: [
          { type: 'rect', shape: { x: a[0] + 0.5, y: a[1] + 0.5, width: b[0] - a[0] - 1, height: b[1] - a[1] - 1 },
            style: { fill: 'rgba(255,255,255,0.78)', stroke: '#8e8e8e', lineWidth: 1 } },
          { type: 'text', x: (a[0] + b[0]) / 2, y: (a[1] + b[1]) / 2,
            style: { text: String(api.value(2)), font: `bold 20px ${FONT}`, fill: '#3a3a3a',
                     align: 'center', verticalAlign: 'middle', textAlign: 'center', textVerticalAlign: 'middle' } }
        ] };
      }
    },
    { // epochs
      type: 'custom', name: 'Epoch', xAxisIndex: 11, yAxisIndex: 10, data: EPOCHS, z: 6,
      renderItem(params, api) {
        const a = api.coord([0, api.value(0)]);
        const b = api.coord([1, api.value(1)]);
        const late = api.value(2) === 1;
        const shift = late ? -39 : -4;
        return { type: 'group', children: [
          { type: 'rect', shape: { x: a[0] + 0.5, y: a[1] + 0.5, width: b[0] - a[0] - 1, height: b[1] - a[1] - 1 },
            style: { fill: late ? '#000' : 'rgba(255,255,255,0.8)', stroke: '#000', lineWidth: 1 } },
          { type: 'text', x: (a[0] + b[0]) / 2, y: (a[1] + b[1]) / 2 + shift, rotation: -Math.PI / 2,
            style: { text: EPOCH_NAMES[api.value(2)],
                     font: late ? `bold 14px ${FONT}` : `15px ${FONT}`, fill: late ? '#fff' : '#000',
                     align: 'center', verticalAlign: 'middle', textAlign: 'center', textVerticalAlign: 'middle' } }
        ] };
      }
    }
  ],
  graphic: [
    { type: 'text', x: 624, y: 38, z: 10,
      style: { text: 'Lake Prespa', font: '50px "Liberation Serif", "Times New Roman", serif', fill: '#000',
               align: 'center', verticalAlign: 'middle', textAlign: 'center', textVerticalAlign: 'middle' } },
    // panel titles (top)
    richTitle(210, 75, '{m|Hg}{s|T}', tokens(COL.hgTTitle, 17, 'bold'), COL.hgTTitle),
    richTitle(210, 96, '{m|(ng g}{p|-1}{m|)}', tokens(COL.hgTTitle, 16, 'bold'), COL.hgTTitle),
    richTitle(584, 76, '{m|Hg/TOC}', tokens(COL.hgTOCTitle, 17, 'bold'), COL.hgTOCTitle),
    richTitle(584, 97, '{m|(ng g}{p|-1}{m| wt %}{p|-1}{m|)}', tokens(COL.hgTOCTitle, 16, 'normal'), COL.hgTOCTitle),
    richTitle(803, 76, '{m|Hg/TS}', tokens(COL.hgTSTitle, 17, 'bold'), COL.hgTSTitle),
    richTitle(803, 97, '{m|(ng g}{p|-1}{m| wt %}{p|-1}{m|)}', tokens(COL.hgTSTitle, 16, 'normal'), COL.hgTSTitle),
    richTitle(1006, 76, '{m|Hg/K}', tokens(COL.hgKTitle, 17, 'bold'), COL.hgKTitle),
    richTitle(1006, 97, '{m|(ng g}{p|-1}{m|/cts)}', tokens(COL.hgKTitle, 16, 'normal'), COL.hgKTitle),
    // panel titles (bottom)
    richTitle(383, 824, '{m|Hg}{s|AR}', tokens(COL.hgARTitle, 18, 'bold'), COL.hgARTitle),
    richTitle(383, 846, '{m|(mg m}{p|-2}{m| kyr}{p|-1}{m|)}', tokens(COL.hgARTitle, 16, 'bold'), COL.hgARTitle),
    richTitle(585, 821, '{m|TOC (wt %)}', tokens(COL.tocTitle, 18, 'bold'), COL.tocTitle),
    richTitle(804, 821, '{m|TS (wt %)}', tokens(COL.tsTitle, 18, 'bold'), COL.tsTitle),
    richTitle(1006, 821, '{m|K (cts)}', tokens(COL.kTitle, 18, 'bold'), COL.kTitle),
    // axis names
    { type: 'text', x: 26, y: 459, rotation: Math.PI / 2, z: 10,
      style: { text: 'Depth (m)', font: `bold 29px ${FONT}`, fill: '#000',
               align: 'center', verticalAlign: 'middle', textAlign: 'center', textVerticalAlign: 'middle' } },
    { type: 'text', x: 1272, y: 460, rotation: Math.PI / 2, z: 10,
      style: { text: 'Age (ka)', font: `bold 29px ${FONT}`, fill: '#000',
               align: 'center', verticalAlign: 'middle', textAlign: 'center', textVerticalAlign: 'middle' } },
    { type: 'text', x: 1172, y: 117, z: 10,
      style: { text: 'MIS', font: `bold 16px ${FONT}`, fill: '#333',
               align: 'center', verticalAlign: 'middle', textAlign: 'center', textVerticalAlign: 'middle' } },
    // legend
    { type: 'rect', z: 10, shape: { x: 490.5, y: 858.5, width: 395, height: 115 },
      style: { fill: '#fff', stroke: '#c4c4c4', lineWidth: 1 } },
    { type: 'rect', z: 11, shape: { x: 508, y: 866.5, width: 27, height: 27 },
      style: { fill: LITH_COLORS[0], stroke: '#222', lineWidth: 2 } },
    { type: 'rect', z: 11, shape: { x: 508, y: 898, width: 27, height: 27 },
      style: { fill: LITH_COLORS[1], stroke: '#222', lineWidth: 2 } },
    { type: 'rect', z: 11, shape: { x: 508, y: 930, width: 27, height: 27 },
      style: { fill: LITH_COLORS[2], stroke: '#222', lineWidth: 2 } },
    { type: 'text', z: 11, x: 540, y: 881,
      style: { text: LITH_TYPES[0], font: `13px ${FONT}`, fill: '#111', verticalAlign: 'middle', textVerticalAlign: 'middle' } },
    { type: 'text', z: 11, x: 541, y: 913,
      style: { text: LITH_TYPES[1], font: `13px ${FONT}`, fill: '#111', verticalAlign: 'middle', textVerticalAlign: 'middle' } },
    { type: 'text', z: 11, x: 540, y: 944,
      style: { text: LITH_TYPES[2], font: `13px ${FONT}`, fill: '#111', verticalAlign: 'middle', textVerticalAlign: 'middle' } },
    { type: 'rect', z: 11, shape: { x: 632, y: 885, width: 26, height: 12 },
      style: { fill: MARKER_STYLE[0].color, opacity: MARKER_STYLE[0].opacity } },
    { type: 'rect', z: 11, shape: { x: 632, y: 907, width: 26, height: 12 },
      style: { fill: MARKER_STYLE[1].color, opacity: MARKER_STYLE[1].opacity } },
    { type: 'rect', z: 11, shape: { x: 632, y: 928, width: 26, height: 12 },
      style: { fill: MARKER_STYLE[2].color, opacity: MARKER_STYLE[2].opacity } },
    { type: 'text', z: 11, x: 663, y: 892,
      style: { text: MARKER_TYPES[0], font: `13px ${FONT}`, fill: '#111', verticalAlign: 'middle', textVerticalAlign: 'middle' } },
    { type: 'text', z: 11, x: 663, y: 914,
      style: { text: MARKER_TYPES[1], font: `13px ${FONT}`, fill: '#111', verticalAlign: 'middle', textVerticalAlign: 'middle' } },
    { type: 'text', z: 11, x: 663, y: 935,
      style: { text: '{i|Dreissena}{n| layer}', verticalAlign: 'middle', textVerticalAlign: 'middle',
               rich: { i: { font: `italic 13px ${FONT}`, fill: '#111', color: '#111' },
                       n: { font: `13px ${FONT}`, fill: '#111', color: '#111' } } } }
  ]
};

const chart = echarts.init(document.getElementById('chart'));
chart.setOption(option);
</script>
</body>
</html>
